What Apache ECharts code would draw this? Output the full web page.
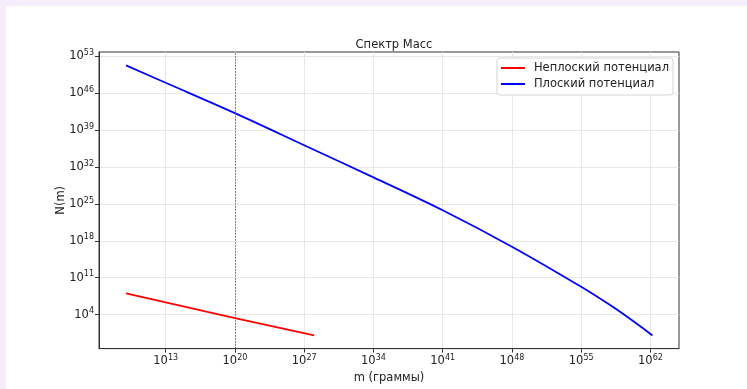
<!DOCTYPE html>
<html>
<head>
<meta charset="utf-8">
<script src="https://cdn.jsdelivr.net/npm/echarts@6/dist/echarts.min.js"></script>
<style>
html,body{margin:0;padding:0;background:#f5eefa;}
#bg{position:absolute;left:6px;top:6px;width:741px;height:383px;background:#fff;}
#chart{position:absolute;left:0;top:0;width:747px;height:389px;}
</style>
</head>
<body>
<div id="bg"></div>
<div id="chart"></div>
<script>
// Data (log-log plot)
const titleText = 'Спектр Масс';
const xAxisName = 'm (граммы)';
const yAxisName = 'N(m)';
const seriesNames = ['Неплоский потенциал', 'Плоский потенциал'];

const redMass = [1e9, 1e20, 1e28];
const redN = [1e8, 2.2e3, 1.15];

const blueMass = [1e9, 1e13, 1e20, 1e27, 1e34, 1e41, 1e48, 1e55, 1e58, 1e60, 1.6e62];
const blueN = [1.95e51, 1e48, 1.74e42, 1.4e36, 1.1e30, 6.3e23, 7.6e16, 1.86e9, 5e5, 1.25e3, 1.1];

const xTickExp = [13, 20, 27, 34, 41, 48, 55, 62];
const yTickExp = [4, 11, 18, 25, 32, 39, 46, 53];
const markerMass = 1e20;

const xTicks = xTickExp.map(e => Math.pow(10, e));
const yTicks = yTickExp.map(e => Math.pow(10, e));

const pair = (xs, ys) => xs.map((x, i) => [x, ys[i]]);

const fmt = v => '{b|10}{s|' + Math.round(Math.log10(v)) + '}';
const rich = {
  b: {fontSize: 11.5, fontFamily: 'DejaVu Sans', color: '#222'},
  s: {fontSize: 8, fontFamily: 'DejaVu Sans', color: '#222', padding: [0, 0, 7, 0]}
};
const font = 'DejaVu Sans';

const chart = echarts.init(document.getElementById('chart'), null, {renderer: 'canvas'});
chart.setOption({
  backgroundColor: 'transparent',
  animation: false,
  title: {
    text: titleText, left: 389, top: 34, textAlign: 'center',
    textStyle: {fontFamily: font, fontSize: 11.5, fontWeight: 'normal', color: '#222'}
  },
  legend: {
    orient: 'vertical', right: 74, top: 58,
    backgroundColor: '#fff', borderColor: '#d5d5d5', borderWidth: 1, borderRadius: 3,
    padding: [4, 4, 5, 4], itemGap: 4, itemWidth: 24, itemHeight: 2,
    icon: 'rect',
    textStyle: {fontFamily: font, fontSize: 11.5, color: '#222', lineHeight: 12, padding: [0, 0, 0, 4]},
    data: seriesNames
  },
  grid: {
    left: 99, right: 68, top: 52, bottom: 40,
    show: true, borderColor: '#333', borderWidth: 1, backgroundColor: 'transparent'
  },
  xAxis: {
    type: 'log', logBase: 10,
    min: Math.pow(10, 6.26), max: Math.pow(10, 64.89),
    name: xAxisName, nameLocation: 'middle', nameGap: 23,
    nameTextStyle: {fontFamily: font, fontSize: 11.5, color: '#222'},
    axisLine: {show: true, lineStyle: {color: '#333'}},
    axisTick: {show: true, length: 4, customValues: xTicks, lineStyle: {color: '#333'}},
    minorTick: {show: false},
    axisLabel: {customValues: xTicks, formatter: fmt, rich: rich, margin: 5},
    splitLine: {show: true, lineStyle: {color: '#e8e8e8', width: 1}}
  },
  yAxis: {
    type: 'log', logBase: 10,
    min: Math.pow(10, -2.46), max: Math.pow(10, 53.84),
    name: yAxisName, nameLocation: 'middle', nameGap: 32, nameRotate: 90,
    nameMoveOverlap: false,
    nameTextStyle: {fontFamily: font, fontSize: 11.5, color: '#222'},
    axisLine: {show: true, lineStyle: {color: '#333'}},
    axisTick: {show: true, length: 4, customValues: yTicks, lineStyle: {color: '#333'}},
    minorTick: {show: false},
    axisLabel: {customValues: yTicks, formatter: fmt, rich: rich, margin: 5},
    splitLine: {show: true, lineStyle: {color: '#e8e8e8', width: 1}}
  },
  series: [
    {
      name: seriesNames[0], type: 'line', data: pair(redMass, redN),
      showSymbol: false, symbol: 'none', lineStyle: {color: '#ff0000', width: 1.8},
      itemStyle: {color: '#ff0000'},
      markLine: {
        silent: true, symbol: 'none', label: {show: false},
        lineStyle: {color: '#555', type: [1.5, 1.5], width: 0.9},
        data: [{xAxis: markerMass}]
      }
    },
    {
      name: seriesNames[1], type: 'line', data: pair(blueMass, blueN),
      showSymbol: false, symbol: 'none', smooth: 0.35,
      lineStyle: {color: '#0000ff', width: 1.8},
      itemStyle: {color: '#0000ff'}
    }
  ]
});
</script>
</body>
</html>
